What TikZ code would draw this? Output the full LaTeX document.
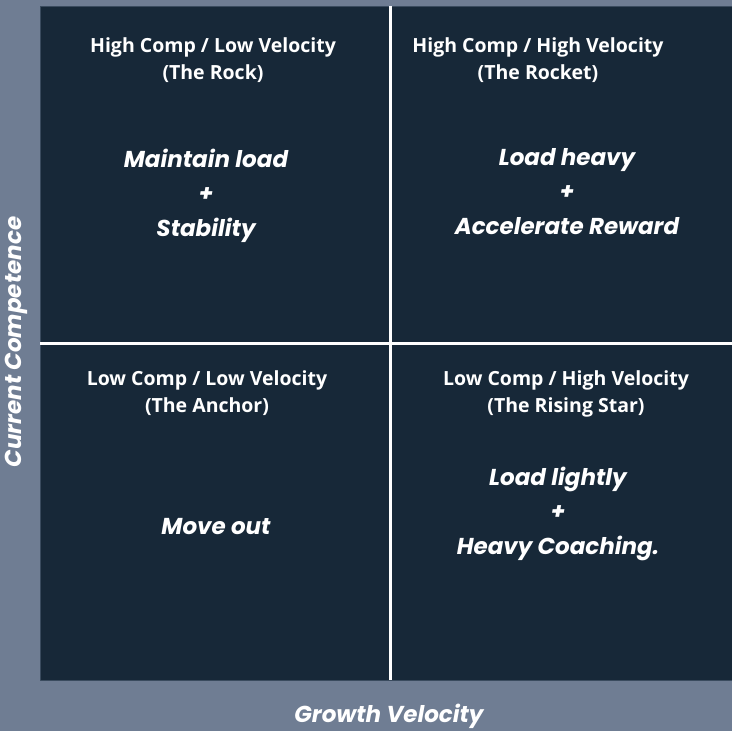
\documentclass[tikz,border=0pt]{standalone}
\usepackage{fontspec}
\setmainfont{Open Sans}
\newfontfamily\headfont{Poppins}
\definecolor{slate}{HTML}{6F7D93}
\definecolor{navy}{HTML}{172838}
\definecolor{rim}{HTML}{3A4B5E}
\tikzset{
	quadtitle/.style={text=white,align=center,font=\bfseries\fontsize{19.5}{27}\selectfont},
	quadbody/.style={text=white,align=center,font=\headfont\bfseries\itshape\fontsize{23}{34.5}\selectfont},
	axislabel/.style={text=white,font=\headfont\bfseries\itshape\fontsize{23}{26}\selectfont}
}
\begin{document}
\begin{tikzpicture}[x=1pt,y=-1pt,line join=round]
	\fill[slate] (0,0) rectangle (732,731);
	\useasboundingbox (0,0) rectangle (732,731);
	\coordinate (NW) at (40,6);
	\coordinate (SE) at (732,680);
	\coordinate (T) at (390,6);
	\coordinate (B) at (390,680);
	\coordinate (L) at (40,343);
	\coordinate (R) at (732,343);
	\filldraw[fill=navy,draw=rim,line width=1] (NW) rectangle (SE);
	\draw[white,line width=3] (T)--(B);
	\draw[white,line width=3] (L)--(R);
	% quadrant headings
	\node[quadtitle] (rock) at (213,60.5) {High Comp / Low Velocity\\(The Rock)};
	\node[quadtitle] (rocket) at (538,60.5) {High Comp / High Velocity\\(The Rocket)};
	\node[quadtitle] (anchor) at (207,393.5) {Low Comp / Low Velocity\\(The Anchor)};
	\node[quadtitle] (star) at (566,393.5) {Low Comp / High Velocity\\(The Rising Star)};
	% what to do
	\node[quadbody] (rockdo) at (206,195.5) {Maintain load\\+\\Stability};
	\node[quadbody] (rocketdo) at (567,191.5) {Load heavy\\+\\Accelerate Reward};
	\node[quadbody] (anchordo) at (216,527) {Move out};
	\node[quadbody] (stardo) at (558,513.5) {Load lightly\\+\\Heavy Coaching.};
	% axes
	\node[axislabel,rotate=90] (yaxis) at (16,342) {Current Competence};
	\node[axislabel] (xaxis) at (389,716) {Growth Velocity};
\end{tikzpicture}
\end{document}
